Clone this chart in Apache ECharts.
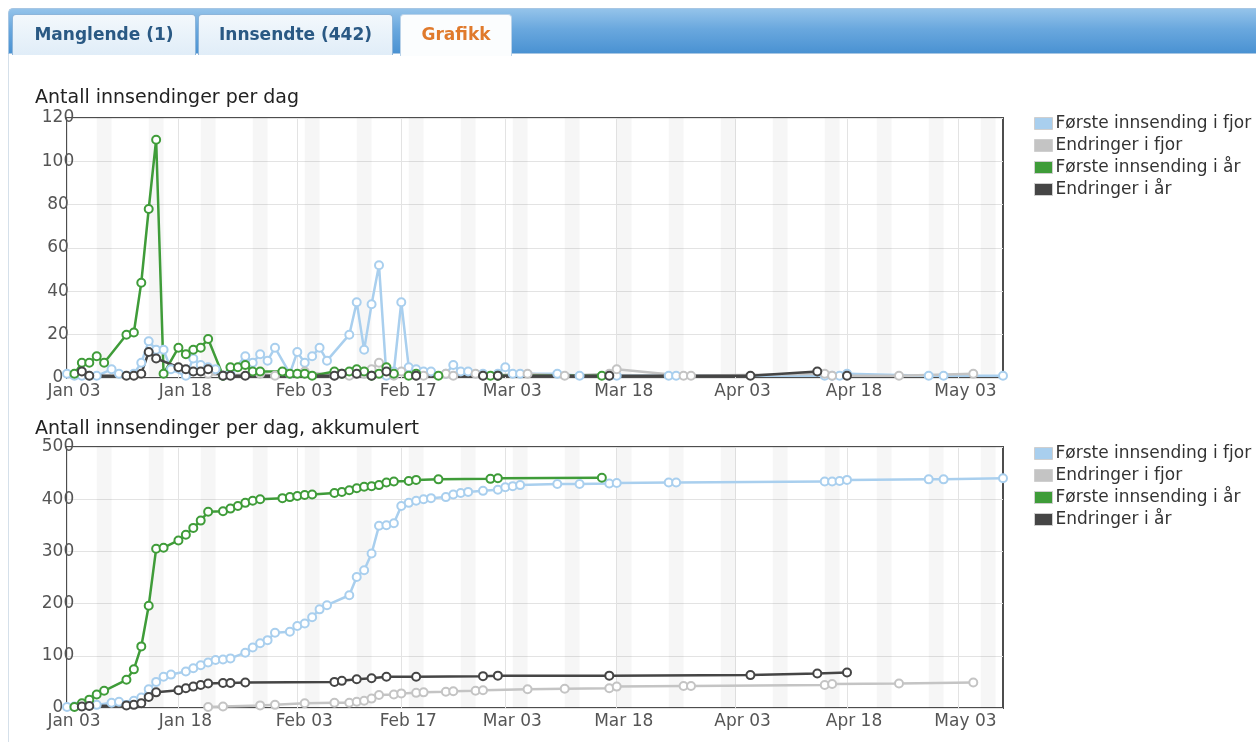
<!DOCTYPE html>
<html>
<head>
<meta charset="utf-8">
<script src="https://cdn.jsdelivr.net/npm/echarts@6/dist/echarts.min.js"></script>
<style>
  html, body { margin: 0; padding: 0; background: #fff; }
  #wrap { position: relative; width: 1256px; height: 742px; overflow: hidden; }
  #chart { position: absolute; left: 0; top: 0; width: 1256px; height: 742px; }
  #content { position: absolute; left: 8px; top: 54px; width: 1260px; height: 700px; border-left: 1px solid #d5e0ea; }
  #bar { position: absolute; left: 8px; top: 8px; width: 1260px; height: 46px; border: 1px solid #a7c6e3; border-right: none;
         border-radius: 5px 0 0 0; background: linear-gradient(to bottom, #94c3ea 0%, #6aa8de 45%, #4a92d2 100%); box-sizing: border-box; }
  .tab { position: absolute; top: 14px; height: 41px; box-sizing: border-box; border: 1px solid #8db5da; border-bottom: none;
         border-radius: 4px 4px 0 0; background: linear-gradient(to bottom, #f3f8fc 0%, #e0edf8 100%);
         font-family: "DejaVu Sans", Verdana, sans-serif; font-weight: bold; font-size: 17px; color: #2a5984;
         text-align: center; line-height: 38px; }
  .tab.active { background: #fbfdfe; color: #e07a2c; height: 42px; border-color: #b9d2e9; }
</style>
</head>
<body>
<div id="wrap">
  <div id="chart"></div>
  <div id="content"></div>
  <div id="bar"></div>
  <div class="tab" style="left:12px;width:184px;">Manglende (1)</div>
  <div class="tab" style="left:198px;width:195px;">Innsendte (442)</div>
  <div class="tab active" style="left:400px;width:112px;">Grafikk</div>
</div>
<script>
// ---------------- DATA ----------------
const YEAR = 2017;
const xStart = '01-03';
const xEnd = '05-09';
const xTickDates  = ['01-03','01-18','02-03','02-17','03-03','03-18','04-03','04-18','05-03'];
const xTickLabels = ['Jan 03','Jan 18','Feb 03','Feb 17','Mar 03','Mar 18','Apr 03','Apr 18','May 03'];

const seriesNames = ['Første innsending i fjor','Endringer i fjor','Første innsending i år','Endringer i år'];
const chartTitles = ['Antall innsendinger per dag','Antall innsendinger per dag, akkumulert'];

// Første innsending i fjor
const lyFirstDates = ['01-03','01-04','01-05','01-06','01-07','01-09','01-10','01-12','01-13','01-14',
  '01-15','01-16','01-17','01-19','01-20','01-21','01-22','01-23','01-24','01-25',
  '01-27','01-28','01-29','01-30','01-31','02-02','02-03','02-04','02-05','02-06',
  '02-07','02-10','02-11','02-12','02-13','02-14','02-15','02-16','02-17','02-18',
  '02-19','02-20','02-21','02-23','02-24','02-25','02-26','02-28','03-02','03-03',
  '03-04','03-05','03-10','03-13','03-17','03-18','03-25','03-26','04-15','04-16',
  '04-17','04-18','04-29','05-01','05-09'];
const lyFirstDaily = [2,1,1,1,1, 4,2,2,7,17, 13,13,4,1,9, 6,5,4,1,2, 10,7,11,8,14, 2,12,7,10,14,
  8,20,35,13,34, 52,1,3,35,5, 4,3,3,2,6, 3,3,2,2,5, 2,2,2,1,1, 1,1,1,1,1, 1,2,1,1,1];
const lyFirstCum = [2,3,4,5,6, 10,12,14,20,36, 50,60,64,70,76, 82,87,92,93,95, 106,116,124,130,144,
  146,157,162,174,189, 197,216,251,264,296, 349,350,354,387,393, 397,400,402,404,409,
  412,414,416,418,423, 425,427,429,429,430, 431,432,432,434,434, 435,437,438,438,440];

// Endringer i fjor
const lyChangeDates = ['01-22','01-24','01-29','01-31','02-04','02-08','02-10','02-11','02-12','02-13',
  '02-14','02-16','02-17','02-19','02-20','02-23','02-24','02-27','02-28','03-06',
  '03-11','03-17','03-18','03-27','03-28','04-15','04-16','04-25','05-05'];
const lyChangeDaily = [2,1,2,1,3,1,1,2,2,4, 7,1,3,1,1,2,1,2,1,2, 1,2,4,1,1,2,1,1,2];
const lyChangeCum = [2,3,5,6,9,10,10,12,14,18, 25,26,28,29,30,31,32,33,34,36, 37,38,41,42,42,44,46,47,49];

// Første innsending i år
const tyFirstDates = ['01-04','01-05','01-06','01-07','01-08','01-11','01-12','01-13','01-14','01-15',
  '01-16','01-18','01-19','01-20','01-21','01-22','01-24','01-25','01-26','01-27',
  '01-28','01-29','02-01','02-02','02-03','02-04','02-05','02-08','02-09','02-10',
  '02-11','02-12','02-13','02-14','02-15','02-16','02-18','02-19','02-22','03-01',
  '03-02','03-16'];
const tyFirstDaily = [2,7,7,10,7,20,21,44,78,110, 2,14,11,13,14,18,1,5,5,6, 3,3,3,2,2,2,1,3,2,3,
  4,3,1,2,5,2,1,2,1,1, 1,1];
const tyFirstCum = [2,9,16,26,33,54,74,118,196,305, 307,321,332,345,359,376,377,382,387,393,
  397,400,402,404,406,408,409,412,414,417, 421,424,425,427,432,434,435,437,438,439, 440,441];

// Endringer i år
const tyChangeDates = ['01-05','01-06','01-11','01-12','01-13','01-14','01-15','01-18','01-19','01-20',
  '01-21','01-22','01-24','01-25','01-27','02-08','02-09','02-11','02-13','02-15',
  '02-19','02-28','03-02','03-17','04-05','04-14','04-18'];
const tyChangeDaily = [3,1,1,1,2,12,9,5,4,3, 3,4,1,1,1,1,2,2,1,3, 1,1,1,1,1,3,1];
const tyChangeCum = [3,4,5,6,9,21,30,34,38,41, 44,47,48,48,49,50,52,55,57,60, 60,61,62,62,63,66,68];

const seriesColors = ['#a9cfee','#c4c4c4','#3f9c39','#454545'];
const yMaxTop = 120, yStepTop = 20;
const yMaxBottom = 500, yStepBottom = 100;

// ---------------- BUILD ----------------
function dayIdx(md) {
  const [m, d] = md.split('-').map(Number);
  const [m0, d0] = xStart.split('-').map(Number);
  return Math.round((Date.UTC(YEAR, m - 1, d) - Date.UTC(YEAR, m0 - 1, d0)) / 864e5);
}
const tickValues = xTickDates.map(dayIdx);
const labelByDay = {};
tickValues.forEach((v, i) => { labelByDay[v] = xTickLabels[i]; });
const xMax = dayIdx(xEnd);

// weekend bands (Sat+Sun) from the calendar
const bands = [];
for (let k = 0; k <= xMax; k++) {
  const [m0, d0] = xStart.split('-').map(Number);
  const dt = new Date(Date.UTC(YEAR, m0 - 1, d0 + k));
  if (dt.getUTCDay() === 6) bands.push([{ xAxis: k }, { xAxis: Math.min(k + 2, xMax) }]);
}

const font = '"DejaVu Sans", Verdana, sans-serif';
const GL = 67, GW = 936;
const grids = [
  { left: GL, top: 118, width: GW, height: 260 },
  { left: GL, top: 447, width: GW, height: 261 }
];

function xAxisFor(i) {
  return {
    type: 'value', gridIndex: i, min: 0, max: xMax,
    axisLine: { show: false },
    axisTick: { show: false, customValues: tickValues },
    axisLabel: {
      customValues: tickValues, fontFamily: font, fontSize: 17, color: '#555',
      margin: 5, padding: [0, 0, 0, 14],
      formatter: v => labelByDay[v] || ''
    },
    splitLine: { show: true, lineStyle: { color: '#e3e3e3', width: 1 } }
  };
}
function yAxisFor(i, max, step) {
  return {
    type: 'value', gridIndex: i, min: 0, max: max, interval: step,
    axisLine: { show: false }, axisTick: { show: false },
    axisLabel: { fontFamily: font, fontSize: 17, color: '#555', margin: 9, align: 'center' },
    splitLine: { show: true, lineStyle: { color: '#e3e3e3', width: 1 } }
  };
}

const sets = [
  [lyFirstDates, lyFirstDaily, lyFirstCum],
  [lyChangeDates, lyChangeDaily, lyChangeCum],
  [tyFirstDates, tyFirstDaily, tyFirstCum],
  [tyChangeDates, tyChangeDaily, tyChangeCum]
];

const series = [];
[0, 1].forEach(g => {
  sets.forEach((s, i) => {
    const vals = g === 0 ? s[1] : s[2];
    const item = {
      name: seriesNames[i], type: 'line', xAxisIndex: g, yAxisIndex: g,
      data: s[0].map((d, j) => [dayIdx(d), vals[j]]),
      symbol: 'emptyCircle', symbolSize: 8, showSymbol: true,
      lineStyle: { color: seriesColors[i], width: 2.5 },
      itemStyle: { color: seriesColors[i], borderColor: seriesColors[i], borderWidth: 2 },
      emphasis: { disabled: true }, animation: false, clip: false
    };
    if (i === 0) {
      item.markArea = { silent: true, itemStyle: { color: 'rgba(0,0,0,0.035)' }, data: bands };
    }
    series.push(item);
  });
});

const legendCommon = {
  orient: 'vertical', left: 1034, padding: 0, icon: 'rect', itemWidth: 18, itemHeight: 12, itemGap: 5,
  itemStyle: { borderColor: '#cfcfcf', borderWidth: 1 },
  textStyle: { fontFamily: font, fontSize: 17, color: '#333', lineHeight: 17, padding: [0, 0, 0, -2] },
  data: seriesNames, selectedMode: false
};

const option = {
  backgroundColor: 'transparent',
  animation: false,
  title: [
    { text: chartTitles[0], left: 35, top: 89, padding: 0, textStyle: { fontFamily: font, fontSize: 19, fontWeight: 'normal', color: '#222' } },
    { text: chartTitles[1], left: 35, top: 420, padding: 0, textStyle: { fontFamily: font, fontSize: 19, fontWeight: 'normal', color: '#222' } }
  ],
  legend: [
    Object.assign({}, legendCommon, { top: 115 }),
    Object.assign({}, legendCommon, { top: 445 })
  ],
  grid: grids.map(g => Object.assign({ show: true, borderColor: '#4d4d4d', borderWidth: 2, backgroundColor: 'transparent' }, g)),
  xAxis: [xAxisFor(0), xAxisFor(1)],
  yAxis: [yAxisFor(0, yMaxTop, yStepTop), yAxisFor(1, yMaxBottom, yStepBottom)],
  series: series
};

const chart = echarts.init(document.getElementById('chart'), null, { renderer: 'canvas' });
chart.setOption(option);
</script>
</body>
</html>
